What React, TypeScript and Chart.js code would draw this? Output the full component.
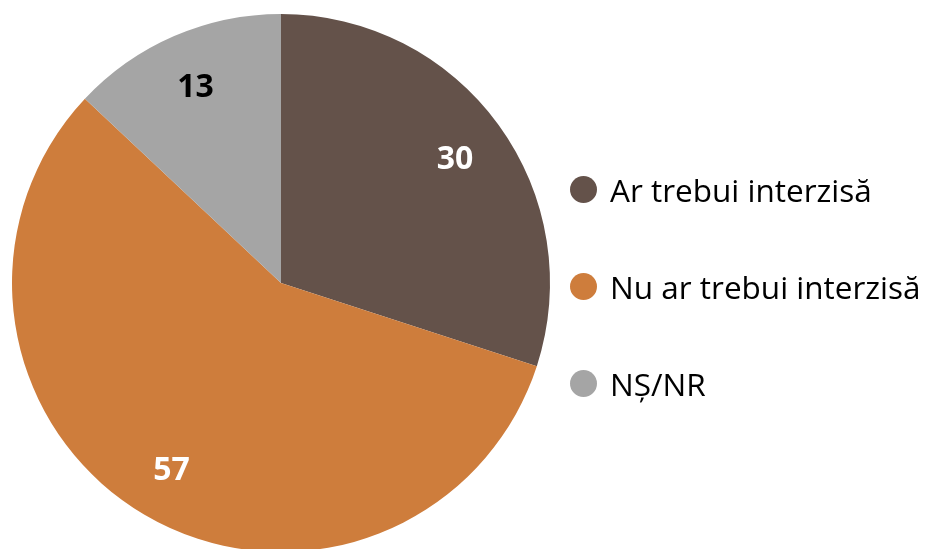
import React, { useEffect, useRef } from "react";
import { Chart, registerables } from "chart.js";

Chart.register(...registerables);

const categories = ["Ar trebui interzisă", "Nu ar trebui interzisă", "NȘ/NR"];
const values = [30, 57, 13];
const colors = ["#64524A", "#CE7D3C", "#A5A5A5"];
const labelColors = ["#FFFFFF", "#FFFFFF", "#000000"];

const labelPlugin = {
  id: "sliceLabels",
  afterDatasetsDraw(chart: any) {
    const ctx = chart.ctx;
    const meta = chart.getDatasetMeta(0);
    ctx.save();
    ctx.font = "bold 32px 'Open Sans', Lato, sans-serif";
    ctx.textAlign = "center";
    ctx.textBaseline = "alphabetic";
    meta.data.forEach((arc: any, i: number) => {
      const mid = (arc.startAngle + arc.endAngle) / 2;
      const r = arc.outerRadius * 0.8;
      const x = arc.x + Math.cos(mid) * r;
      const y = arc.y + Math.sin(mid) * r;
      ctx.fillStyle = labelColors[i];
      ctx.fillText(String(values[i]), x, y + 12);
    });
    ctx.restore();
  },
};

export default function App() {
  const ref = useRef<HTMLCanvasElement>(null);
  useEffect(() => {
    if (!ref.current) return;
    const chart = new Chart(ref.current, {
      type: "pie",
      data: {
        labels: categories,
        datasets: [
          {
            data: values,
            backgroundColor: colors,
            borderWidth: 0,
          },
        ],
      },
      options: {
        responsive: false,
        animation: false,
        layout: { padding: { left: 12, top: 14, right: 383, bottom: 14 } },
        plugins: { legend: { display: false }, tooltip: { enabled: false } },
      },
      plugins: [labelPlugin],
    });
    return () => chart.destroy();
  }, []);

  const rowsY = [189, 286, 383];
  return (
    <div
      style={{
        position: "fixed",
        left: 0,
        top: 0,
        width: 933,
        height: 549,
        overflow: "hidden",
        background: "#fff",
      }}
    >
      <canvas ref={ref} width={933} height={566} style={{ display: "block" }} />
      {categories.map((c, i) => (
        <div
          key={c}
          style={{
            position: "absolute",
            left: 570,
            top: rowsY[i] - 22,
            height: 44,
            display: "flex",
            alignItems: "center",
            fontFamily: "'Open Sans', Lato, sans-serif",
            fontSize: 31.5,
            color: "#000",
            whiteSpace: "nowrap",
          }}
        >
          <span
            style={{
              display: "inline-block",
              width: 27,
              height: 27,
              borderRadius: "50%",
              background: colors[i],
              marginRight: 13,
            }}
          />
          {c}
        </div>
      ))}
    </div>
  );
}
